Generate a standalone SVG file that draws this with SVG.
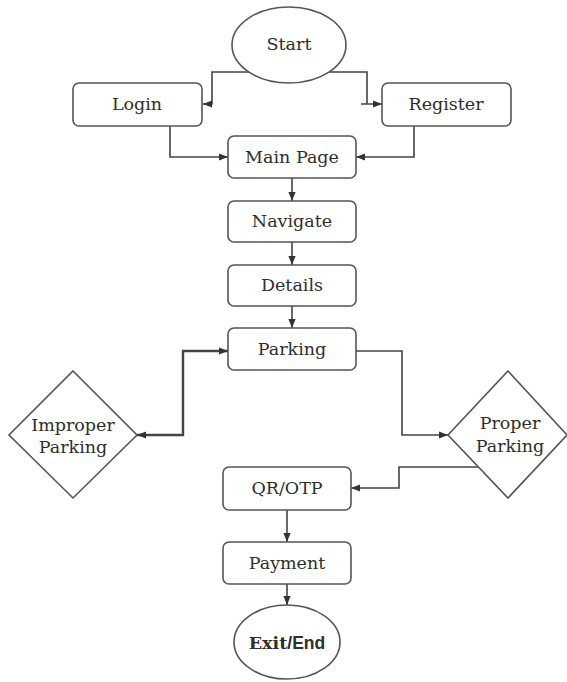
<svg xmlns="http://www.w3.org/2000/svg" width="567" height="682" viewBox="0 0 567 682">
<defs>
<style>
.box{fill:#fff;stroke:#555;stroke-width:1.6}
.lbl{font-family:"DejaVu Serif","Liberation Serif",serif;font-size:17.5px;fill:#2e2e2e;text-anchor:middle;dominant-baseline:central}
.con{fill:none;stroke:#444;stroke-width:1.6}
.thick{stroke-width:2.4}
</style>
<marker id="ah" viewBox="0 0 10 10" refX="10" refY="5" markerWidth="9" markerHeight="9" markerUnits="userSpaceOnUse" orient="auto-start-reverse">
<path d="M0,1 L10,5 L0,9 Z" fill="#333"/>
</marker>
</defs>
<rect width="567" height="682" fill="#fff"/>
<g id="connectors">
<path class="con" d="M249,72 H212 V104 H203" marker-end="url(#ah)"/>
<path class="con" d="M329,72 H367 V104 M361,104 H382" marker-end="url(#ah)"/>
<path class="con" d="M170,126 V157 H228" marker-end="url(#ah)"/>
<path class="con" d="M414,126 V157 H356" marker-end="url(#ah)"/>
<path class="con" d="M292,178 V201" marker-end="url(#ah)"/>
<path class="con" d="M292,242 V265" marker-end="url(#ah)"/>
<path class="con" d="M292,306 V328" marker-end="url(#ah)"/>
<path class="con thick" d="M228,351 H183 V435 H137" marker-start="url(#ah)" marker-end="url(#ah)"/>
<path class="con" d="M356,351 H402 V435 H448" marker-end="url(#ah)"/>
<path class="con" d="M481,467 H399 V488 H351" marker-end="url(#ah)"/>
<path class="con" d="M287,510 V542" marker-end="url(#ah)"/>
<path class="con" d="M287,584 V605" marker-end="url(#ah)"/>
</g>
<g id="start">
<ellipse class="box" cx="289" cy="45" rx="57" ry="38"/>
<text class="lbl" x="289" y="44">Start</text>
</g>
<g id="login">
<rect class="box" x="73" y="83" width="129" height="43" rx="6"/>
<text class="lbl" x="137" y="104">Login</text>
</g>
<g id="register">
<rect class="box" x="382" y="83" width="129" height="43" rx="6"/>
<text class="lbl" x="446" y="104">Register</text>
</g>
<g id="main-page">
<rect class="box" x="228" y="136" width="128" height="42" rx="6"/>
<text class="lbl" x="292" y="157">Main Page</text>
</g>
<g id="navigate">
<rect class="box" x="228" y="201" width="128" height="41" rx="6"/>
<text class="lbl" x="292" y="221">Navigate</text>
</g>
<g id="details">
<rect class="box" x="228" y="265" width="128" height="41" rx="6"/>
<text class="lbl" x="292" y="285">Details</text>
</g>
<g id="parking">
<rect class="box" x="228" y="328" width="128" height="42" rx="6"/>
<text class="lbl" x="292" y="349">Parking</text>
</g>
<g id="improper-parking">
<polygon class="box" points="73,371 137,435 73,498 9,435"/>
<text class="lbl" x="73" y="425">Improper</text>
<text class="lbl" x="73" y="447">Parking</text>
</g>
<g id="proper-parking">
<polygon class="box" points="508,371 567,435 508,498 448,435"/>
<text class="lbl" x="510" y="423">Proper</text>
<text class="lbl" x="510" y="446">Parking</text>
</g>
<g id="qr-otp">
<rect class="box" x="223" y="467" width="128" height="43" rx="6"/>
<text class="lbl" x="287" y="488">QR/OTP</text>
</g>
<g id="payment">
<rect class="box" x="223" y="542" width="128" height="42" rx="6"/>
<text class="lbl" x="287" y="563">Payment</text>
</g>
<g id="exit-end">
<ellipse class="box" cx="287" cy="642" rx="53" ry="37"/>
<text class="lbl" x="287" y="643" font-weight="bold" font-size="19.5px"><tspan>Exit</tspan><tspan font-family="'Liberation Sans',sans-serif">/End</tspan></text>
</g>
</svg>
